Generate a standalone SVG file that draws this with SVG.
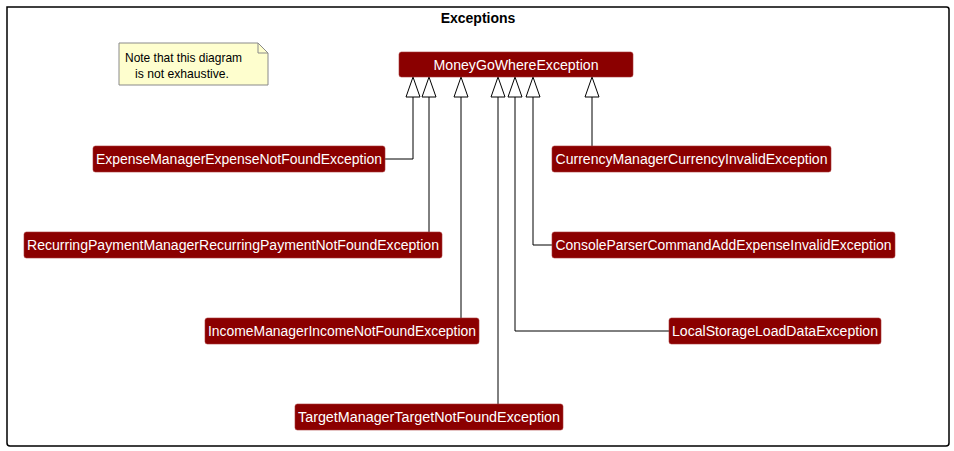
<svg xmlns="http://www.w3.org/2000/svg" width="954" height="451" viewBox="0 0 954 451">
<style>
.box{fill:#8B0000;stroke:#A83838;stroke-width:0.6}
.lbl{fill:#FFFFFF;font-family:"Liberation Sans",Arial,sans-serif;font-size:14px}
.edge{fill:none;stroke:#000000;stroke-width:1}
.head{fill:#FFFFFF;stroke:#000000;stroke-width:1}
.note{fill:#FEFECE;stroke:#8A8A8A;stroke-width:1}
.ntxt{fill:#000000;font-family:"Liberation Sans",Arial,sans-serif;font-size:13px}
</style>
<rect width="954" height="451" fill="#FFFFFF"/>
<g id="frame">
<path d="M7,7 H946.5 Q949,7 949,9.5 V443 Q949,446 946,446 H10 Q7,446 7,443 Z" fill="none" stroke="#000000" stroke-width="1.5"/>
<text x="478" y="23" text-anchor="middle" font-family="Liberation Sans,Arial,sans-serif" font-size="14" font-weight="bold" fill="#000000">Exceptions</text>
</g>
<g id="note">
<path class="note" d="M119,43 H258 L268,53 V85 H119 Z"/>
<path d="M258,43 V53 H268" fill="none" stroke="#8A8A8A" stroke-width="1"/>
<text class="ntxt" x="183.5" y="62" text-anchor="middle" textLength="117" lengthAdjust="spacingAndGlyphs">Note that this diagram</text>
<text class="ntxt" x="182" y="78" text-anchor="middle" textLength="94" lengthAdjust="spacingAndGlyphs">is not exhaustive.</text>
</g>
<g id="connectors">
<path class="edge" d="M413,97 V159 H385"/>
<path class="edge" d="M429,97 V232"/>
<path class="edge" d="M461,97 V318"/>
<path class="edge" d="M498,97 V404"/>
<path class="edge" d="M515,97 V331 H669"/>
<path class="edge" d="M533,97 V245 H552"/>
<path class="edge" d="M592,97 V146"/>
<polygon class="head" points="413,77 406,97 420,97"/>
<polygon class="head" points="429,77 422,97 436,97"/>
<polygon class="head" points="461,77 454,97 468,97"/>
<polygon class="head" points="498,77 491,97 505,97"/>
<polygon class="head" points="515,77 508,97 522,97"/>
<polygon class="head" points="533,77 526,97 540,97"/>
<polygon class="head" points="592,77 585,97 599,97"/>
</g>
<g id="MoneyGoWhereException">
<rect class="box" x="399" y="52" width="234" height="25" rx="2.5"/>
<text class="lbl" x="516" y="70" text-anchor="middle" textLength="165" lengthAdjust="spacingAndGlyphs">MoneyGoWhereException</text>
</g>
<g id="ExpenseManagerExpenseNotFoundException">
<rect class="box" x="93" y="146" width="292" height="26" rx="2.5"/>
<text class="lbl" x="239" y="164" text-anchor="middle" textLength="286" lengthAdjust="spacingAndGlyphs">ExpenseManagerExpenseNotFoundException</text>
</g>
<g id="CurrencyManagerCurrencyInvalidException">
<rect class="box" x="552" y="146" width="279" height="26" rx="2.5"/>
<text class="lbl" x="691.5" y="164" text-anchor="middle" textLength="272" lengthAdjust="spacingAndGlyphs">CurrencyManagerCurrencyInvalidException</text>
</g>
<g id="RecurringPaymentManagerRecurringPaymentNotFoundException">
<rect class="box" x="24" y="232" width="418" height="26" rx="2.5"/>
<text class="lbl" x="233" y="250" text-anchor="middle" textLength="412" lengthAdjust="spacingAndGlyphs">RecurringPaymentManagerRecurringPaymentNotFoundException</text>
</g>
<g id="ConsoleParserCommandAddExpenseInvalidException">
<rect class="box" x="552" y="232" width="343" height="26" rx="2.5"/>
<text class="lbl" x="723.5" y="250" text-anchor="middle" textLength="336" lengthAdjust="spacingAndGlyphs">ConsoleParserCommandAddExpenseInvalidException</text>
</g>
<g id="IncomeManagerIncomeNotFoundException">
<rect class="box" x="205" y="318" width="274" height="26" rx="2.5"/>
<text class="lbl" x="342" y="336" text-anchor="middle" textLength="268" lengthAdjust="spacingAndGlyphs">IncomeManagerIncomeNotFoundException</text>
</g>
<g id="LocalStorageLoadDataException">
<rect class="box" x="669" y="318" width="212" height="26" rx="2.5"/>
<text class="lbl" x="775" y="336" text-anchor="middle" textLength="206" lengthAdjust="spacingAndGlyphs">LocalStorageLoadDataException</text>
</g>
<g id="TargetManagerTargetNotFoundException">
<rect class="box" x="295" y="404" width="268" height="26" rx="2.5"/>
<text class="lbl" x="429" y="422" text-anchor="middle" textLength="262" lengthAdjust="spacingAndGlyphs">TargetManagerTargetNotFoundException</text>
</g>
</svg>
